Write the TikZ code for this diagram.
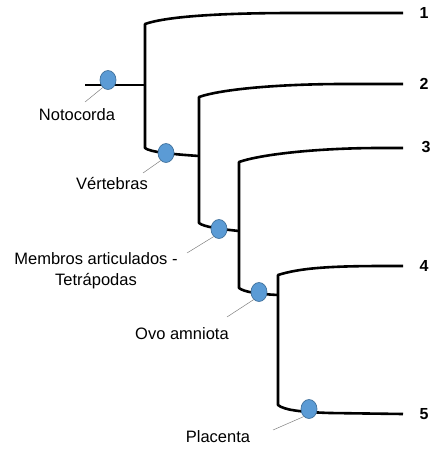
\documentclass[tikz,border=0pt]{standalone}
\usepackage{fontspec}
\setmainfont{Liberation Sans}
\usetikzlibrary{shapes.geometric}
\definecolor{apofill}{HTML}{5B9BD5}
\definecolor{apoedge}{HTML}{41719C}
\begin{document}
\begin{tikzpicture}[x=1pt,y=-1pt,
  branch/.style={line width=2.6pt, line join=round, line cap=butt},
  stem/.style={line width=1.6pt},
  apo/.style={ellipse, draw=apoedge, fill=apofill, line width=0.7pt, minimum width=16pt, minimum height=19pt, inner sep=0pt},
  leader/.style={draw=gray, line width=0.5pt},
  lbl/.style={font=\fontsize{16.5}{21}\selectfont, align=center, inner sep=0pt},
  tiplbl/.style={font=\bfseries\fontsize{16}{19}\selectfont, inner sep=0pt}]
\useasboundingbox (0,0) rectangle (439,455);

% branch points
\coordinate (r0) at (85,85);
\coordinate (a0) at (145,85);
\coordinate (aT) at (145,24);
\coordinate (aB) at (145,148);
\coordinate (bT) at (199,97);
\coordinate (bB) at (199,223);
\coordinate (cT) at (239,162);
\coordinate (cB) at (239,288);
\coordinate (dT) at (278,275);
\coordinate (dB) at (278,405);
\coordinate (e1) at (403,13);
\coordinate (e2) at (403,84);
\coordinate (e3) at (403,148);
\coordinate (e4) at (403,266);
\coordinate (e5) at (403,414);

% root stem
\draw[stem] (r0) -- (a0);
% clade A
\draw[branch] (e1) -- (295,13) .. controls (225,13) and (168,16) .. (aT) -- (aB)
  .. controls (150,152) and (170,154) .. (199,156);
% clade B
\draw[branch] (e2) -- (345,84) .. controls (280,84) and (222,89) .. (bT) -- (bB)
  .. controls (204,227) and (220,229) .. (239,231);
% clade C
\draw[branch] (e3) -- (380,148) .. controls (320,148) and (262,154) .. (cT) -- (cB)
  .. controls (244,292) and (258,294) .. (278,295);
% clade D
\draw[branch] (e4) -- (385,266) .. controls (330,266) and (300,268) .. (dT) -- (dB)
  .. controls (284,410) and (300,412) .. (330,413) -- (e5);

% apomorphies
\node[apo] (dn) at (108,80) {};
\node[apo] (dv) at (166,153) {};
\node[apo] (dm) at (219,229) {};
\node[apo] (do) at (259,292) {};
\node[apo] (dp) at (309,409) {};

% leader ends
\coordinate (ln) at (85,102);
\coordinate (lv) at (143,173);
\coordinate (lm) at (187,253);
\coordinate (lo) at (227,317);
\coordinate (lp) at (273,430);
\draw[leader] (dn.235) -- (ln);
\draw[leader] (dv.235) -- (lv);
\draw[leader] (dm.235) -- (lm);
\draw[leader] (do.235) -- (lo);
\draw[leader] (dp.235) -- (lp);

% labels
\node[lbl] (tn) at (77,115) {Notocorda};
\node[lbl] (tv) at (112,184) {Vértebras};
\node[lbl] (tm) at (96,271) {Membros articulados -\\Tetrápodas};
\node[lbl] (to) at (182,334) {Ovo amniota};
\node[lbl] (tp) at (218,437) {Placenta};

% tips
\node[tiplbl] (t1) at (424,13) {1};
\node[tiplbl] (t2) at (424,84) {2};
\node[tiplbl] (t3) at (426,147) {3};
\node[tiplbl] (t4) at (424,266) {4};
\node[tiplbl] (t5) at (424,414) {5};
\end{tikzpicture}
\end{document}
